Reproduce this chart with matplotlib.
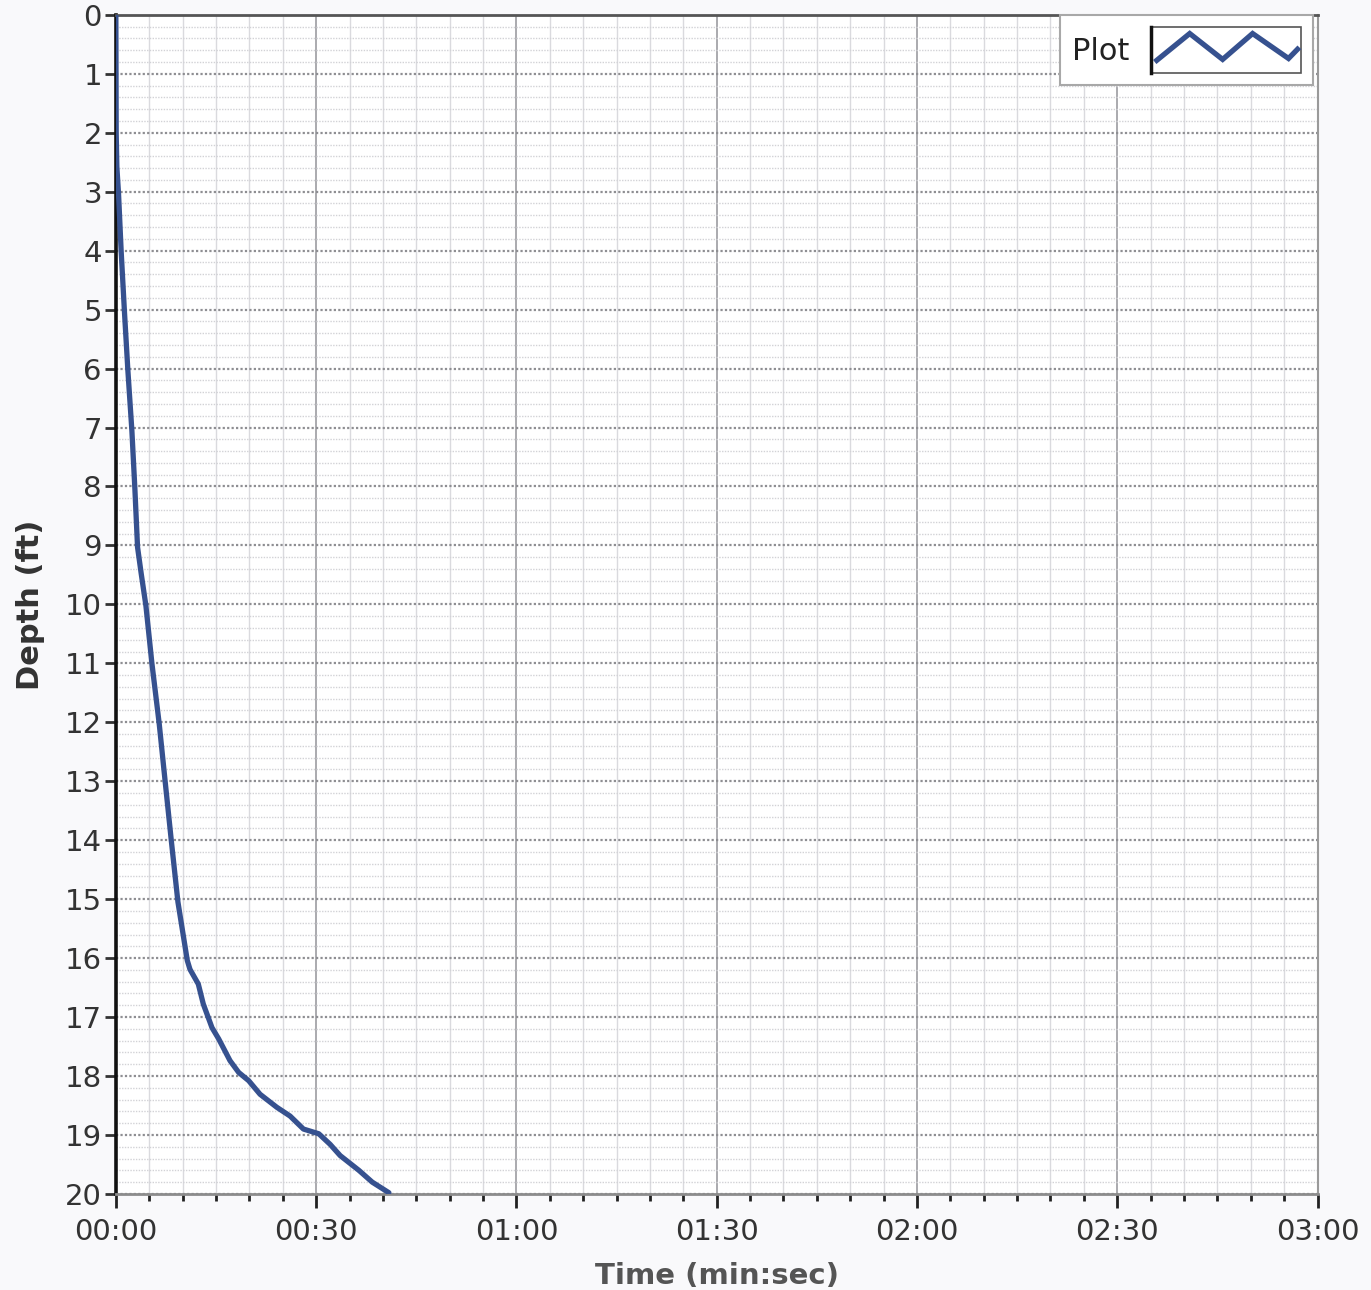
import numpy as np
import matplotlib
matplotlib.use("Agg")
import matplotlib.pyplot as plt
from matplotlib.ticker import MultipleLocator, FuncFormatter
from matplotlib.legend_handler import HandlerBase
from matplotlib.patches import Rectangle
from matplotlib.lines import Line2D

# descent profile: elapsed seconds vs depth in feet
time_s = [0.0, 0.05, 0.15, 0.4, 0.8, 1.3, 1.8, 2.4, 2.85, 3.25, 3.8, 4.5,
          5.4, 6.5, 7.4, 8.3, 9.3, 10.7, 11.1, 12.35, 13.1, 14.4, 15.4,
          17.1, 18.4, 19.9, 21.6, 24.1, 26.1, 28.1, 30.4, 32.1, 33.6, 36.4,
          38.4, 40.9]
depth_ft = [0.0, 2.0, 2.58, 3.03, 4.02, 5.06, 6.03, 7.05, 8.04, 9.03, 9.48,
            10.02, 11.0, 12.03, 13.02, 14.0, 15.05, 16.04, 16.19, 16.44,
            16.78, 17.18, 17.37, 17.74, 17.94, 18.08, 18.31, 18.53, 18.68,
            18.9, 18.98, 19.16, 19.35, 19.6, 19.8, 19.98]

series_name = "Plot"
x_max = 180
y_max = 20

LINE_COLOR = "#36518f"


class ZigzagHandler(HandlerBase):
    """Legend key drawn as a framed zigzag instead of a straight stroke."""

    def create_artists(self, legend, orig_handle, xdescent, ydescent,
                       width, height, fontsize, trans):
        x0, y0 = -xdescent, -ydescent
        box = Rectangle((x0, y0), width, height, facecolor="white",
                        edgecolor="#555555", lw=1.2, transform=trans)
        edge = Line2D([x0, x0], [y0, y0 + height], color="#111111", lw=2.5,
                      transform=trans)
        fx = np.array([0.04, 0.26, 0.48, 0.68, 0.92, 0.98])
        fy = np.array([0.28, 0.86, 0.30, 0.86, 0.32, 0.52])
        zig = Line2D(x0 + width * fx, y0 + height * fy,
                     color=orig_handle.get_color(),
                     lw=orig_handle.get_linewidth(),
                     solid_joinstyle="miter", transform=trans)
        return [box, edge, zig]


def mmss(v, _pos):
    v = int(round(v))
    return f"{v // 60:02d}:{v % 60:02d}"


fig = plt.figure(figsize=(13.71, 12.9), dpi=100, facecolor="#f9f9fb")
ax = fig.add_axes([0.0845, 0.0745, 0.8765, 0.9140])
ax.set_facecolor("white")

ax.set_xlim(0, x_max)
ax.set_ylim(y_max, 0)

ax.xaxis.set_major_locator(MultipleLocator(30))
ax.xaxis.set_minor_locator(MultipleLocator(5))
ax.xaxis.set_major_formatter(FuncFormatter(mmss))
ax.yaxis.set_major_locator(MultipleLocator(1))
ax.yaxis.set_minor_locator(MultipleLocator(0.2))

# grid: solid verticals every 5 s, dotted horizontals every 0.2 ft
ax.grid(which="minor", axis="x", color="#dadade", lw=1.0, ls="-")
ax.grid(which="major", axis="x", color="#a4a4a8", lw=1.3, ls="-")
ax.grid(which="minor", axis="y", color="#d2d2d6", lw=1.0, ls=(0, (1, 1)))
ax.grid(which="major", axis="y", color="#8e8e92", lw=1.6, ls=(0, (1, 1)))
ax.set_axisbelow(True)

ax.tick_params(axis="x", which="major", length=10, width=2, color="#222222",
               labelsize=21, labelcolor="#333333", pad=7)
ax.tick_params(axis="x", which="minor", length=5, width=2, color="#222222")
ax.tick_params(axis="y", which="major", length=8, width=2, color="#333333",
               labelsize=21, labelcolor="#333333", pad=2)
ax.tick_params(axis="y", which="minor", length=0)

ax.spines["left"].set_color("#111111")
ax.spines["left"].set_linewidth(2.6)
ax.spines["top"].set_color("#555555")
ax.spines["top"].set_linewidth(2.0)
ax.spines["bottom"].set_color("#8c8c8c")
ax.spines["bottom"].set_linewidth(2.0)
ax.spines["right"].set_color("#9a9a9a")
ax.spines["right"].set_linewidth(1.5)

line, = ax.plot(time_s, depth_ft, color=LINE_COLOR, lw=3.8,
                solid_joinstyle="round", solid_capstyle="round",
                label=series_name, zorder=3)

leg = ax.legend(handles=[line], handler_map={Line2D: ZigzagHandler()},
                loc="upper right", bbox_to_anchor=(0.996, 1.0),
                borderaxespad=0, markerfirst=False, fontsize=22,
                handlelength=4.9, handleheight=1.95, handletextpad=0.7,
                borderpad=0.4, fancybox=False, framealpha=1,
                facecolor="white", edgecolor="#a8a8a8")
leg.get_frame().set_linewidth(1.5)
for t in leg.get_texts():
    t.set_color("#222222")

ax.set_xlabel("Time (min:sec)", fontsize=21, fontweight="bold",
              color="#555555", labelpad=12)
ax.set_ylabel("Depth (ft)", fontsize=22, fontweight="bold",
              color="#333333", labelpad=14)

fig.savefig("out.png", dpi=100, facecolor=fig.get_facecolor())
